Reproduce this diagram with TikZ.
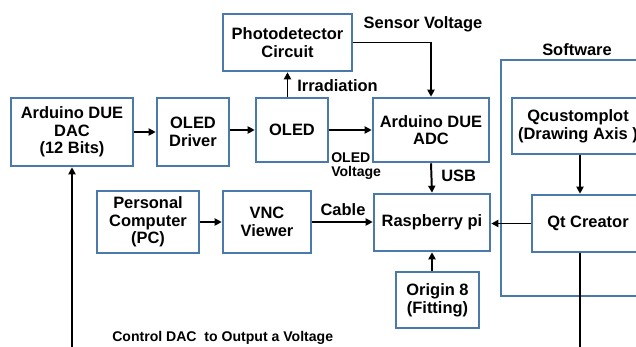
\documentclass[tikz,border=0pt]{standalone}
\usepackage{fontspec}
\setmainfont{Liberation Sans}
\usepackage{xcolor}
\usepackage{tikz}
\usetikzlibrary{arrows.meta}

\definecolor{boxblue}{RGB}{74,122,172}

\tikzset{
    blk/.style={draw=boxblue, line width=1.8pt, align=center, inner sep=0pt,
        font=\bfseries\fontsize{11.7}{12.5}\selectfont},
    lbl/.style={font=\bfseries\fontsize{11.7}{12.5}\selectfont, inner sep=0pt},
    smalllbl/.style={font=\bfseries\fontsize{10}{10.5}\selectfont, inner sep=0pt, align=left},
    arr/.style={line width=1.4pt, -{Triangle[length=5pt,width=5pt]}},
    wire/.style={line width=1.4pt}
}

\begin{document}
\begin{tikzpicture}[x=0.025cm, y=-0.025cm]

    % Frame of the picture (pixel units)
    \clip (0,0) rectangle (636,347);

    % Hardware chain
    \node[blk, minimum width=3.05cm, minimum height=1.7cm] (dac) at (72,132) {Arduino DUE\\DAC\\(12 Bits)};
    \node[blk, minimum width=1.8cm, minimum height=1.7cm] (drv) at (193,132) {OLED\\Driver};
    \node[blk, minimum width=1.8cm, minimum height=1.6cm] (oled) at (292,130) {OLED};
    \node[blk, minimum width=3.225cm, minimum height=1.425cm] (photo) at (287.5,42.5) {Photodetector\\Circuit};
    \node[blk, minimum width=2.9cm, minimum height=1.6cm] (adc) at (431,130) {Arduino DUE\\ADC};

    % PC side
    \node[blk, minimum width=2.55cm, minimum height=1.55cm] (pc) at (148,222) {Personal\\Computer\\(PC)};
    \node[blk, minimum width=2.2cm, minimum height=1.55cm] (vnc) at (267,222) {VNC\\Viewer};
    \node[blk, minimum width=2.9cm, minimum height=1.425cm] (rpi) at (432,222.5) {Raspberry pi};
    \node[blk, minimum width=2.075cm, minimum height=1.4cm] (org) at (437.5,300) {Origin 8\\(Fitting)};

    % Software group
    \draw[boxblue, line width=1.8pt] (501,60) rectangle (700,296);
    \node[lbl] (sw) at (577,50) {Software};
    \node[blk, minimum width=3.3cm, minimum height=1.4cm] (qc) at (578,126) {Qcustomplot\\(Drawing Axis )};
    \node[blk, minimum width=2.8cm, minimum height=1.425cm] (qt) at (588,223.5) {Qt Creator};

    % Loop back to the DAC
    \coordinate (lp) at (580,380);

    % Connectors
    \draw[arr] (dac.east) -- (drv.west);
    \draw[arr] (oled.west -| drv.east) -- (oled.west);
    \draw[arr] (photo.south |- oled.north) -- (photo.south);
    \draw[arr] (photo.east) -| (adc.north);
    \draw[arr] (oled.east) -- (adc.west);
    \draw[arr] (adc.south) -- (rpi.north);
    \draw[arr] (pc.east) -- (vnc.west);
    \draw[arr] (vnc.east) -- (vnc.east -| rpi.west);
    \draw[arr] (qt.west) -- (qt.west -| rpi.east);
    \draw[arr] (rpi.south |- org.north) -- (rpi.south);
    \draw[arr] (qc.south -| lp) -- (qt.north -| lp);
    \draw[arr] (qt.south -| lp) -- (lp) -| (dac.south);

    % Labels
    \node[lbl] (sv) at (423,24) {Sensor Voltage};
    \node[lbl, anchor=west] (irr) at (297,86) {Irradiation};
    \node[smalllbl, anchor=north west] (ov) at (331,152) {OLED\\Voltage};
    \node[lbl, anchor=west] (usb) at (441,176) {USB};
    \node[lbl] (cab) at (343,210) {Cable};
    \node[smalllbl, anchor=west] (ctl) at (112,338) {Control DAC\ \ to Output a Voltage};

\end{tikzpicture}
\end{document}
